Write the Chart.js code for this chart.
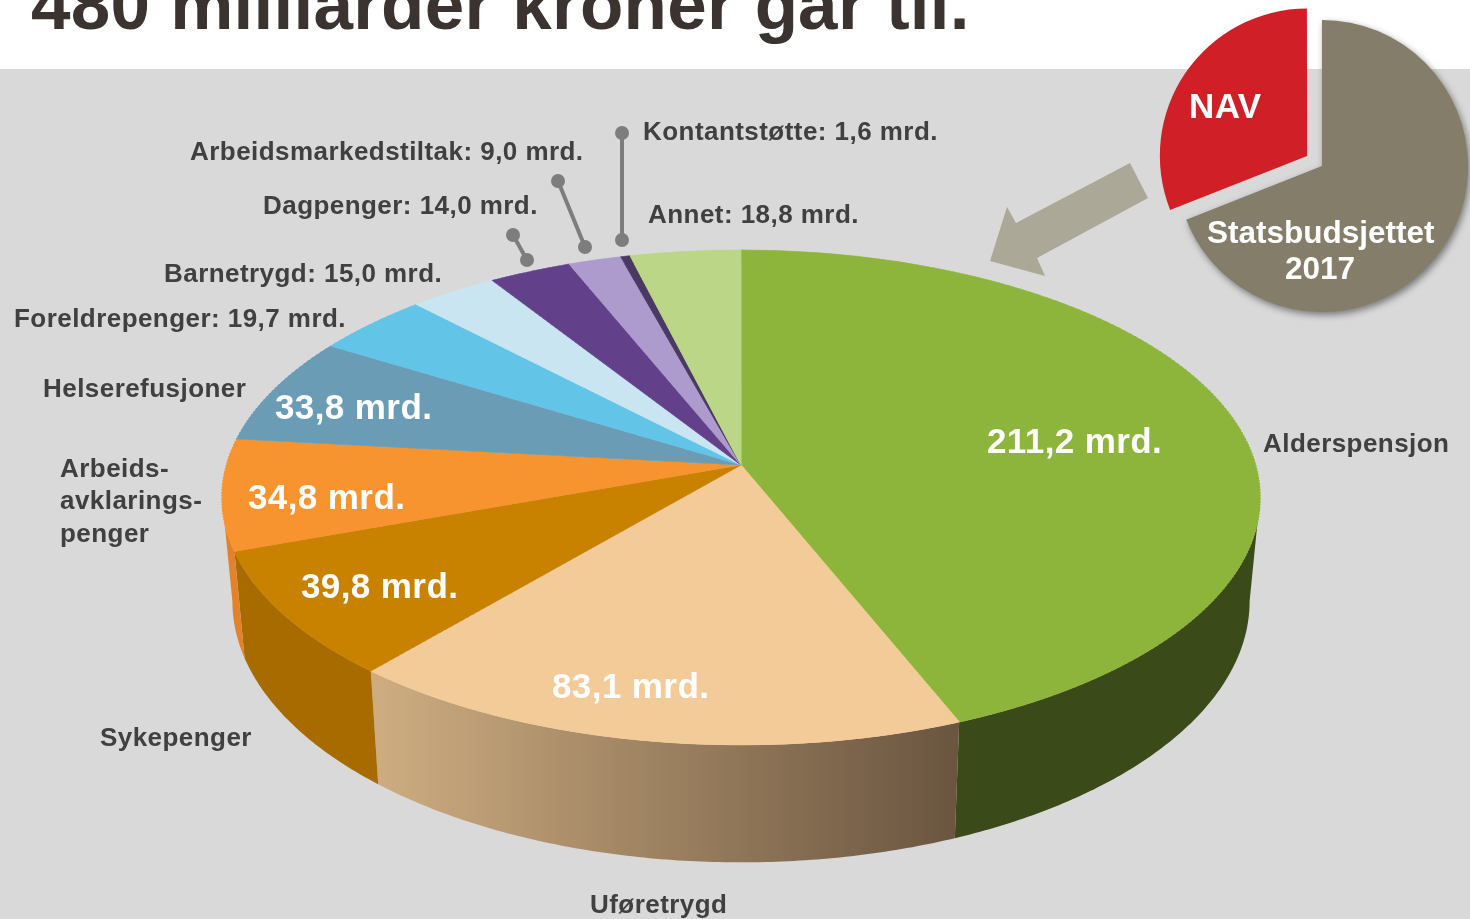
<!DOCTYPE html>
<html lang="no">
<head>
<meta charset="utf-8">
<title>480 milliarder kroner går til</title>
<script src="https://cdn.jsdelivr.net/npm/chart.js@4"></script>
<style>
  html, body { margin: 0; height: 100%; background: #fff; overflow: hidden; }
  #band { position: absolute; left: 0; right: 0; top: 69px; bottom: 0; background: #d9d9d9; }
  #mainChart { position: absolute; left: 0; top: 0; }
  #insetChart { position: absolute; left: 1140px; top: -16px; }
  .txt { position: absolute; white-space: nowrap; transform: translateY(-50%); font-family: "Liberation Sans", Arial, sans-serif; font-weight: bold; }
  .out { font-size: 26px; letter-spacing: 0.45px; color: #404040; }
  .in { font-size: 35px; letter-spacing: 0.4px; color: #fff; }
  h1 { position: absolute; left: 31px; top: -36px; margin: 0; white-space: nowrap; font: bold 71px "Liberation Sans", Arial, sans-serif; letter-spacing: 0.25px; color: #3a3330; }
</style>
</head>
<body>
<div id="band"></div>
<h1>480 milliarder kroner går til.</h1>
<canvas id="mainChart" width="1470" height="919"></canvas>
<canvas id="insetChart" width="364" height="364"></canvas>
<div id="labels"></div>
<script>
const categories = ["Alderspensjon", "Uføretrygd", "Sykepenger", "Arbeidsavklaringspenger", "Helserefusjoner", "Foreldrepenger", "Barnetrygd", "Dagpenger", "Arbeidsmarkedstiltak", "Kontantstøtte", "Annet"];
const values = [211.2, 83.1, 39.8, 34.8, 33.8, 19.7, 15.0, 14.0, 9.0, 1.6, 18.8];
const sliceColors = ["#8db53c", "#f3cb98", "#c98200", "#f79430", "#6a9db5", "#62c4e6", "#c8e5f1", "#63408a", "#ae9bcd", "#4a3a63", "#bcd688"];
const wallColors = ["#3a4a18", null, "#a86b00", "#e2832b", "#6a9db5", "#62c4e6", "#c8e5f1", "#63408a", "#ae9bcd", "#4a3a63", "#bcd688"];

const insetCategories = ["NAV", "Statsbudsjettet 2017"];
const insetValues = [31, 69];
const insetColors = ["#d01f26", "#847d69"];

// perspective of the big pie, worked out from the rim in the picture
const cx = 741, apexY = 465, spanX = 514.5, spanY = 243.2, persp = 0.1313;
const wallDepth = 102, wallShrink = 0.98;

function project(u, v) {
  const w = 1 / (1 - persp * v);
  return { x: cx + spanX * u * w, y: apexY + spanY * v * w, w };
}

function drawWalls(ctx, arcs) {
  // only the front of the rim shows, between the two widest points
  const frontStart = Math.asin(persp), frontEnd = Math.PI - frontStart;
  arcs.forEach((arc, i) => {
    const from = Math.max(arc.startAngle, frontStart), to = Math.min(arc.endAngle, frontEnd);
    if (from >= to) return;
    const top = [];
    for (let a = from; a < to; a += 0.01) top.push(project(Math.cos(a), Math.sin(a)));
    top.push(project(Math.cos(to), Math.sin(to)));

    ctx.beginPath();
    top.forEach((p, n) => n ? ctx.lineTo(p.x, p.y) : ctx.moveTo(p.x, p.y));
    top.reverse().forEach(p => ctx.lineTo(cx + (p.x - cx) * wallShrink, p.y + wallDepth * p.w));
    ctx.closePath();

    if (wallColors[i]) {
      ctx.fillStyle = wallColors[i];
    } else {
      const g = ctx.createLinearGradient(378, 0, 957, 0);
      g.addColorStop(0, "#cdac80");
      g.addColorStop(1, "#6a5540");
      ctx.fillStyle = g;
    }
    ctx.fill();
  });
}

// canvas can only do affine transforms, so the top is drawn in thin strips
function drawTop(ctx, arcs) {
  const R = arcs[0].outerRadius, ax = arcs[0].x, ay = arcs[0].y;
  const toV = y => { const t = (y - apexY) / spanY; return t / (1 + persp * t); };
  for (let y = 246; y < 750; y += 3) {
    const v1 = toV(y), v2 = toV(y + 3);
    const sx = spanX / (1 - persp * (v1 + v2) / 2) / R;
    const sy = 3 / (v2 - v1) / R;
    ctx.save();
    ctx.beginPath();
    ctx.rect(0, y, 1470, 3);
    ctx.clip();
    ctx.setTransform(sx, 0, 0, sy, cx - sx * ax, y - (v1 * R + ay) * sy);
    arcs.forEach(arc => arc.draw(ctx));
    ctx.restore();
  }
}

function drawLeader(ctx, x1, y1, x2, y2) {
  ctx.strokeStyle = ctx.fillStyle = "#7d7d7d";
  ctx.lineWidth = 4;
  ctx.beginPath();
  ctx.moveTo(x1, y1);
  ctx.lineTo(x2, y2);
  ctx.stroke();
  [[x1, y1], [x2, y2]].forEach(p => {
    ctx.beginPath();
    ctx.arc(p[0], p[1], 7, 0, Math.PI * 2);
    ctx.fill();
  });
}

const tiltPlugin = {
  id: "tilt",
  beforeDatasetsDraw(chart) {
    const arcs = chart.getDatasetMeta(0).data;
    drawWalls(chart.ctx, arcs);
    drawTop(chart.ctx, arcs);
    return false;
  },
  afterDraw(chart) {
    const ctx = chart.ctx;
    drawLeader(ctx, 622, 133, 622, 240);
    drawLeader(ctx, 558, 181, 585, 247);
    drawLeader(ctx, 513, 235, 527, 260);

    // arrow from the inset
    ctx.fillStyle = "#aca897";
    ctx.beginPath();
    [[1130, 163], [1148, 198], [1037, 258], [1045, 276], [990, 261], [1007, 207], [1016, 223]]
      .forEach((p, n) => n ? ctx.lineTo(p[0], p[1]) : ctx.moveTo(p[0], p[1]));
    ctx.closePath();
    ctx.fill();
  }
};

const insetPlugin = {
  id: "insetShadow",
  beforeDatasetsDraw(chart) {
    const ctx = chart.ctx, arcs = chart.getDatasetMeta(0).data;
    ctx.save();
    ctx.shadowColor = "rgba(0,0,0,0.45)";
    ctx.shadowBlur = 7;
    ctx.shadowOffsetX = 2;
    ctx.shadowOffsetY = 3;
    arcs[1].draw(ctx);
    ctx.restore();
    arcs[0].draw(ctx);
    return false;
  }
};

new Chart(document.getElementById("mainChart"), {
  type: "pie",
  data: {
    labels: categories,
    datasets: [{ data: values, backgroundColor: sliceColors, borderColor: sliceColors, borderWidth: 1 }]
  },
  options: {
    responsive: false,
    animation: false,
    plugins: { legend: { display: false }, tooltip: { enabled: false } }
  },
  plugins: [tiltPlugin]
});

// chart.js moves a slice by offset / 4 when it draws it
new Chart(document.getElementById("insetChart"), {
  type: "pie",
  data: {
    labels: insetCategories,
    datasets: [{ data: insetValues, backgroundColor: insetColors, borderWidth: 0, offset: [72, 0] }]
  },
  options: {
    responsive: false,
    animation: false,
    rotation: -111.6,
    plugins: { legend: { display: false }, tooltip: { enabled: false } }
  },
  plugins: [insetPlugin]
});

// text
const mrd = v => v.toFixed(1).replace(".", ",") + " mrd.";
const named = i => categories[i] + ": " + mrd(values[i]);
const outerLabels = [
  ["Alderspensjon", 1263, 443],
  ["Uføretrygd", 590, 904],
  ["Sykepenger", 100, 737],
  ["Arbeids-", 60, 468],
  ["avklarings-", 60, 500],
  ["penger", 60, 533],
  ["Helserefusjoner", 43, 388],
  [named(5), 14, 318],
  [named(6), 164, 273],
  [named(7), 263, 205],
  [named(8), 190, 151],
  [named(9), 643, 131],
  [named(10), 648, 214]
];
const innerLabels = [
  [mrd(values[0]), 987, 441],
  [mrd(values[1]), 552, 686],
  [mrd(values[2]), 301, 586],
  [mrd(values[3]), 248, 497],
  [mrd(values[4]), 275, 407]
];
const holder = document.getElementById("labels");
function addLabel(cls, text, x, y, extra) {
  const el = document.createElement("div");
  el.className = "txt " + cls;
  el.textContent = text;
  el.style.left = x + "px";
  el.style.top = y + "px";
  if (extra) el.style.cssText += extra;
  holder.appendChild(el);
}
outerLabels.forEach(l => addLabel("out", l[0], l[1], l[2]));
innerLabels.forEach(l => addLabel("in", l[0], l[1], l[2]));
addLabel("in", insetCategories[0], 1189, 106, "font-size:35px;");
addLabel("in", "Statsbudsjettet", 1207, 232, "font-size:31.5px;letter-spacing:0;");
addLabel("in", "2017", 1285, 268, "font-size:31.5px;letter-spacing:0;");
</script>
</body>
</html>
